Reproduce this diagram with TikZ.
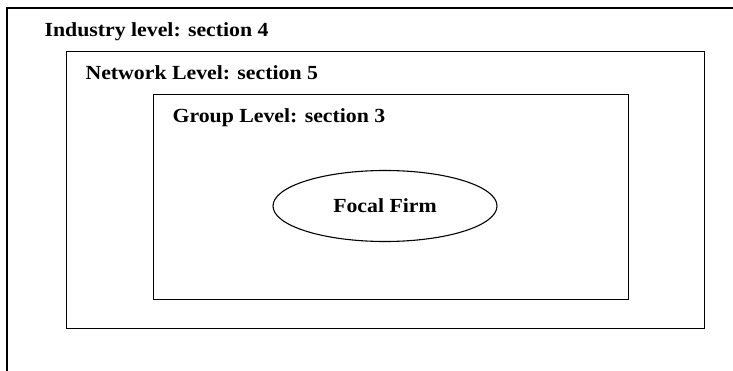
\documentclass[tikz,border=0pt]{standalone}
\usepackage{fontspec}
\setmainfont{Liberation Serif}[FakeStretch=1.09]
\usetikzlibrary{shapes, positioning}

\begin{document}
\begin{tikzpicture}[x=1pt, y=-1pt, line width=1.1pt,
    levelbox/.style={draw, anchor=north west, inner sep=0pt},
    leveltag/.style={font=\bfseries\fontsize{20}{24}\selectfont, anchor=base west, inner sep=0pt}]
    \useasboundingbox (0,0) rectangle (733,371);

    % industry level: only top and left edges show
    \coordinate (industryTR) at (733,8);
    \coordinate (industryTL) at (7,8);
    \coordinate (industryBL) at (7,371);
    \draw (industryTR) -- (industryTL) -- (industryBL);
    \node[leveltag] (industry) at (44,37) {Industry level: section 4};

    \node[levelbox, minimum width=638pt, minimum height=277pt] (network) at (66,51) {};
    \node[leveltag] (networklbl) at (85,80) {Network Level: section 5};

    \node[levelbox, minimum width=475pt, minimum height=205pt] (group) at (153,94) {};
    \node[leveltag] (grouplbl) at (172,123) {Group Level: section 3};

    \node[draw, ellipse, inner sep=0pt, minimum width=224pt, minimum height=71pt,
          font=\bfseries\fontsize{20}{24}\selectfont] (firm) at (385,206) {Focal Firm};
\end{tikzpicture}
\end{document}
